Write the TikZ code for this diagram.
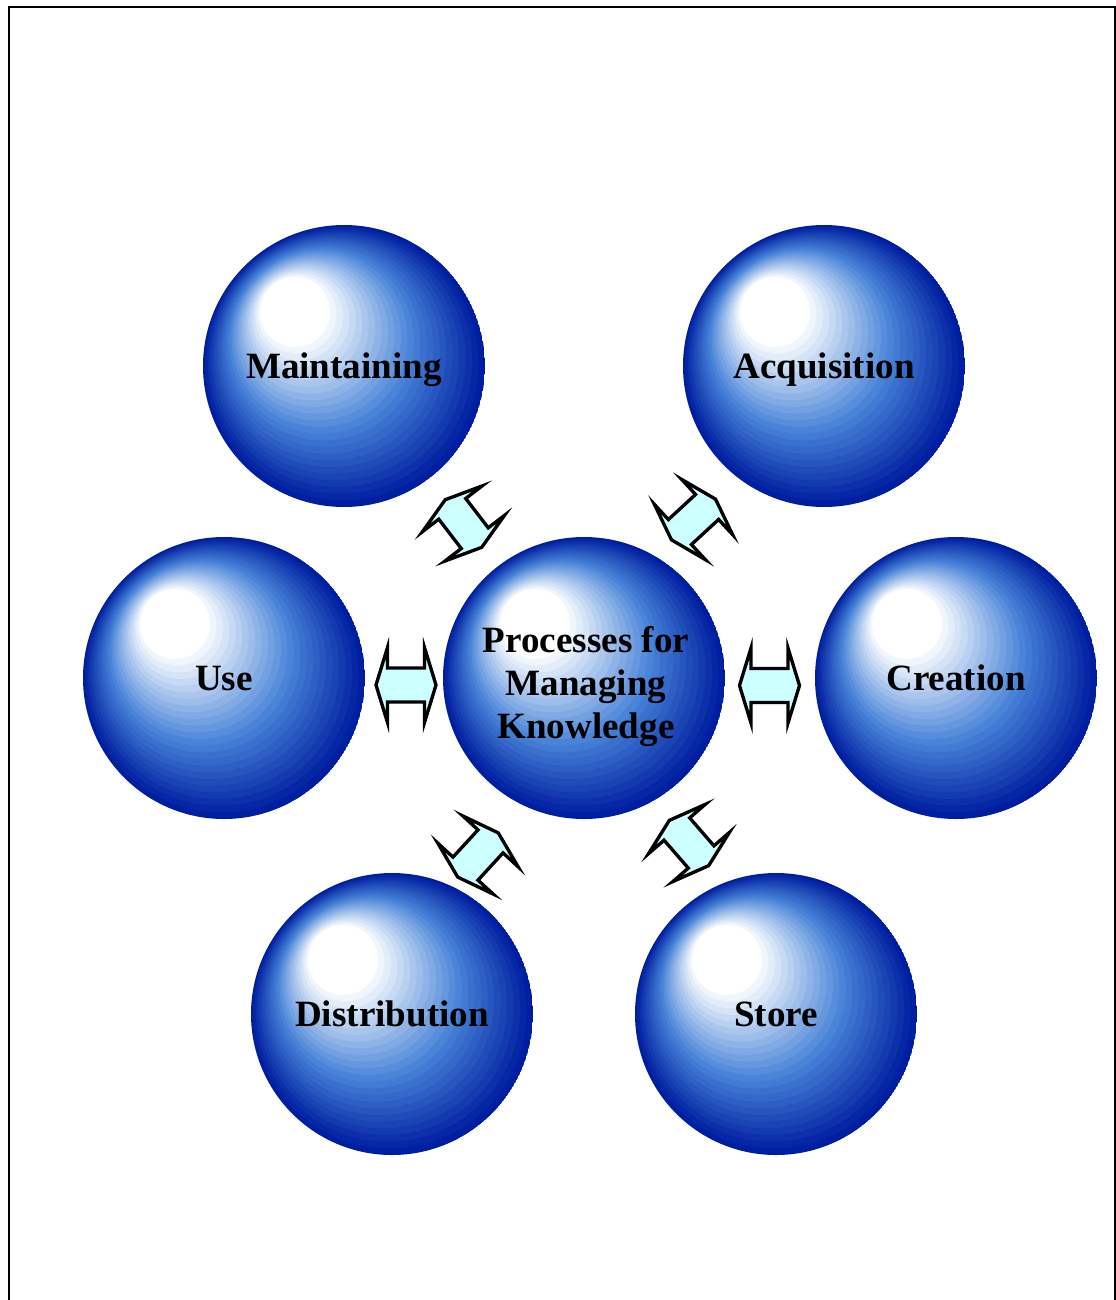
\documentclass[tikz,border=0pt]{standalone}
\usepackage{fontspec}
\setmainfont{Liberation Serif}
\usetikzlibrary{calc}
\definecolor{sphmid}{RGB}{70,130,215}
\definecolor{sphdark}{RGB}{0,30,160}
\definecolor{arrowfill}{RGB}{204,255,255}
\tikzset{
  lbl/.style={font=\bfseries\fontsize{27.8pt}{32.25pt}\selectfont, text=black},
  sphere/.style={circle, inner sep=0pt, minimum size=211.5pt,
    lbl, text height=18pt, text depth=0pt,
    path picture={
      \foreach \ii in {24,23,...,0}{
        \pgfmathsetmacro\st{\ii/24}
        \pgfmathsetmacro\rr{26.25+\st*(105.75-26.25)}
        \pgfmathsetmacro\ccx{-36.75*(1-\st)}
        \pgfmathsetmacro\ccy{40.5*(1-\st)}
        \pgfmathsetmacro\mixa{min(100,\st*100/0.55)}
        \pgfmathsetmacro\mixb{max(0,(\st-0.55)*100/0.45)}
        \fill[sphdark!\mixb!sphmid!\mixa!white]
          ($(path picture bounding box.center)+(\ccx pt,\ccy pt)$) circle[radius=\rr pt];
      }
    }},
  dblarrow/.pic={
    \filldraw[fill=arrowfill, draw=black, line width=2.5pt, line join=miter]
      (-30,0) -- (-18.5,37.5) -- (-18.5,17) -- (18.5,17) -- (18.5,37.5) -- (30,0)
      -- (18.5,-37.5) -- (18.5,-17) -- (-18.5,-17) -- (-18.5,-37.5) -- cycle;
  }
}
\begin{document}
\begin{tikzpicture}[x=0.75pt,y=0.75pt]
\useasboundingbox (0,0) rectangle (1116,-1300);
\draw[line width=1.5pt] (9,-1300) -- (9,-7) -- (1115,-7) -- (1115,-1300);

\node[sphere] (m)  at (344,-366)  {Maintaining};
\node[sphere] (a)  at (824,-366)  {Acquisition};
\node[sphere] (u)  at (224,-678)  {Use};
\node[sphere] (c)  at (584,-678)  {};
\node[sphere] (cr) at (956,-678)  {Creation};
\node[sphere] (d)  at (392,-1014) {Distribution};
\node[sphere] (s)  at (776,-1014) {Store};
\node[lbl, align=center, inner sep=0pt] (ct) at ($(c.center)+(2,-9)$)
  {Processes for\\Managing\\Knowledge};

\pic[rotate=127.5] at ($(c)!0.5!(m)+(-0.5,-1.5)$) {dblarrow};
\pic[rotate=42.7]  at ($(c)!0.5!(a)+(-10.5,2.5)$) {dblarrow};
\pic[rotate=0]     at ($(c)!0.5!(u)+(2,-7)$) {dblarrow};
\pic[rotate=0]     at ($(c)!0.5!(cr)+(-0.5,-7.5)$) {dblarrow};
\pic[rotate=47.4]  at ($(c)!0.5!(d)+(-10,-9)$) {dblarrow};
\pic[rotate=-49]   at ($(c)!0.5!(s)+(9,3)$) {dblarrow};
\end{tikzpicture}
\end{document}
